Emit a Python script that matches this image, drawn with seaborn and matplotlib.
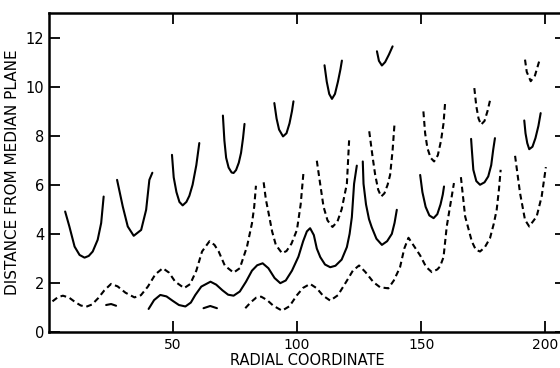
import pandas as pd
import matplotlib
matplotlib.use("Agg")
import matplotlib.pyplot as plt
import seaborn as sns

# curve segments, as (radial coordinate, distance) pairs
# solid U shaped pieces
u1 = [(6.7, 4.91), (8.4, 4.3), (10.5, 3.48), (12.5, 3.14), (14.5, 3.03), (16.2, 3.1),
      (17.8, 3.28), (19.8, 3.76), (21.2, 4.44), (22.2, 5.52)]
u2 = [(27.6, 6.2), (29.9, 5.11), (31.9, 4.3), (34.3, 3.92), (37.3, 4.16), (39.3, 4.98),
      (40.6, 6.2), (41.8, 6.49)]
u3 = [(49.7, 7.22), (50.4, 6.3), (51.5, 5.7), (52.7, 5.3), (54.0, 5.16), (55.5, 5.3),
      (56.7, 5.55), (58.0, 6.0), (59.5, 6.8), (60.7, 7.7)]
u4 = [(70.2, 8.82), (70.8, 7.8), (71.5, 7.1), (72.5, 6.7), (73.7, 6.5), (74.5, 6.48),
      (75.5, 6.6), (76.6, 6.9), (77.5, 7.3), (78.3, 7.9), (78.9, 8.48)]
u5 = [(90.9, 9.33), (91.8, 8.7), (92.8, 8.25), (94.4, 7.97), (95.8, 8.1), (97.0, 8.5),
      (98.0, 9.0), (98.6, 9.4)]
u6 = [(111.1, 10.87), (112.0, 10.2), (113.0, 9.7), (114.1, 9.5), (115.3, 9.7),
      (116.5, 10.2), (117.5, 10.7), (118.1, 11.06)]
u7 = [(132.2, 11.44), (133.0, 11.05), (134.2, 10.86), (135.5, 11.0), (137.0, 11.3),
      (138.5, 11.64)]
u15 = [(149.6, 6.4), (150.5, 5.7), (151.8, 5.1), (153.3, 4.75), (155.0, 4.64),
       (156.5, 4.8), (157.8, 5.2), (158.7, 5.6), (159.2, 5.93)]
u12 = [(170.1, 7.87), (170.4, 7.43), (171.0, 6.61), (172.2, 6.15), (173.7, 6.0),
       (175.5, 6.1), (177.0, 6.34), (178.2, 6.8), (179.0, 7.43), (179.7, 7.9)]
u10 = [(191.5, 8.62), (192.0, 8.1), (192.7, 7.7), (193.5, 7.45), (194.8, 7.55),
       (196.0, 7.9), (197.2, 8.4), (198.1, 8.92)]

# solid oscillating curve and its continuation
s1 = [(40.3, 0.94), (42.5, 1.3), (45.0, 1.51), (47.5, 1.45), (50.0, 1.27), (52.5, 1.1),
      (55.1, 1.04), (57.3, 1.2), (59.1, 1.51), (61.5, 1.85), (65.2, 2.05), (67.5, 1.93),
      (70.0, 1.7), (72.3, 1.52), (74.5, 1.48), (77.0, 1.65), (79.5, 2.05), (81.9, 2.5),
      (84.0, 2.72), (86.2, 2.8), (88.5, 2.6), (91.0, 2.2), (93.3, 1.99), (95.5, 2.1),
      (98.0, 2.5), (100.6, 3.07), (102.5, 3.7), (104.0, 4.1), (105.3, 4.23), (106.8, 3.95),
      (108.0, 3.4), (109.4, 3.05), (111.3, 2.75), (113.4, 2.64), (115.5, 2.7), (118.0, 2.95),
      (120.1, 3.46), (121.2, 4.0), (122.1, 4.68), (123.0, 6.04), (124.1, 6.78)]
s2 = [(126.5, 6.95), (126.8, 6.04), (127.8, 5.2), (129.0, 4.6), (130.1, 4.27),
      (132.0, 3.8), (134.2, 3.55), (136.3, 3.7), (138.2, 4.0), (139.3, 4.45), (140.2, 4.98)]

# short isolated pieces near the bottom
bit_a = [(23.2, 1.1), (25.2, 1.14), (27.2, 1.07)]
bit_b = [(62.4, 0.97), (65.1, 1.06), (67.8, 0.97)]

# dashed curves
d1 = [(1.6, 1.25), (3.8, 1.42), (5.8, 1.48), (8.3, 1.4), (11.0, 1.2), (13.0, 1.08),
      (15.2, 1.03), (17.5, 1.12), (20.0, 1.38), (22.5, 1.7), (25.2, 1.96), (27.8, 1.86),
      (31.0, 1.6), (34.6, 1.41), (37.2, 1.5), (40.0, 1.85), (43.0, 2.35), (46.0, 2.6),
      (48.5, 2.42), (51.0, 2.05), (54.6, 1.79), (57.0, 1.95), (59.5, 2.5), (61.8, 3.28),
      (64.8, 3.7), (66.8, 3.55), (68.5, 3.28), (71.0, 2.7), (74.5, 2.42), (77.0, 2.6),
      (79.9, 3.48), (81.9, 4.43), (82.8, 5.1), (83.5, 5.96)]
d2 = [(86.6, 6.1), (87.5, 5.4), (88.6, 4.84), (90.0, 4.1), (91.5, 3.55), (94.0, 3.21),
      (95.8, 3.3), (97.8, 3.6), (100.0, 4.16), (101.5, 5.2), (102.7, 6.58)]
d3 = [(108.0, 6.98), (109.4, 6.0), (110.7, 5.11), (112.3, 4.55), (114.3, 4.28),
      (116.3, 4.5), (118.0, 5.0), (119.2, 5.6), (120.1, 6.04), (121.0, 7.81)]
d4 = [(129.1, 8.18), (130.5, 7.1), (131.5, 6.4), (132.7, 5.8), (133.9, 5.52),
      (135.2, 5.65), (136.5, 6.0), (137.5, 6.4), (138.5, 7.4), (139.3, 8.52)]
d5 = [(79.2, 0.97), (81.5, 1.22), (83.6, 1.4), (85.6, 1.44), (88.0, 1.3), (90.5, 1.07),
      (94.0, 0.87), (97.0, 1.05), (100.0, 1.5), (102.5, 1.8), (105.3, 1.96), (108.0, 1.78),
      (110.5, 1.48), (113.4, 1.28), (116.5, 1.5), (120.1, 2.09), (122.5, 2.5), (125.0, 2.71),
      (127.5, 2.45), (130.8, 2.03), (133.5, 1.82), (136.8, 1.78), (139.0, 2.1), (141.5, 2.64),
      (143.2, 3.4), (144.9, 3.84), (146.8, 3.55), (149.6, 3.12), (152.0, 2.65), (154.3, 2.44),
      (156.5, 2.55), (157.6, 2.67), (159.0, 3.05), (160.3, 4.3), (161.6, 5.1), (163.2, 6.07)]
u11 = [(150.9, 8.99), (151.6, 8.1), (152.5, 7.5), (153.8, 7.1), (155.2, 6.95),
       (156.7, 7.2), (158.0, 7.8), (159.0, 8.5), (159.6, 9.29)]
u14 = [(166.0, 6.31), (167.7, 4.71), (170.4, 3.69), (172.0, 3.35), (173.7, 3.28),
       (175.6, 3.45), (177.7, 3.82), (179.2, 4.4), (180.4, 4.98), (181.3, 5.8), (182.0, 6.61)]
u9 = [(171.4, 9.94), (172.2, 9.2), (173.1, 8.7), (174.1, 8.45), (175.5, 8.6),
      (176.7, 9.0), (177.7, 9.43)]
u13 = [(187.8, 7.18), (189.8, 5.66), (191.8, 4.57), (193.5, 4.3), (196.5, 4.71),
       (198.5, 5.52), (200.2, 6.72)]
u8 = [(191.8, 11.1), (192.5, 10.6), (194.1, 10.22), (195.8, 10.45), (197.5, 11.03)]

solid_curves = [u1, u2, u3, u4, u5, u6, u7, u15, u12, u10, s1, s2, bit_a, bit_b]
dashed_curves = [d1, d2, d3, d4, d5, u11, u14, u9, u13, u8]

x_ticks = [50, 100, 150, 200]
y_ticks = [0, 2, 4, 6, 8, 10, 12]

rows = []
for kind, curves in [("solid", solid_curves), ("dashed", dashed_curves)]:
    for i, seg in enumerate(curves):
        for x, y in seg:
            rows.append({"seg": f"{kind}{i}", "kind": kind, "x": x, "y": y})
df = pd.DataFrame(rows)

sns.set_style("ticks")
plt.rcParams["font.family"] = ["DejaVu Sans"]

fig = plt.figure(figsize=(5.6, 3.68), dpi=100)
ax = fig.add_axes([48.5 / 560, 36 / 368, (566 - 48.5) / 560, (332 - 13) / 368])

sns.lineplot(data=df, x="x", y="y", units="seg", style="kind", estimator=None,
             dashes={"solid": "", "dashed": (2.8, 1.8)}, color="black",
             linewidth=1.5, legend=False, ax=ax)

ax.set_xlim(0, 208.3)
ax.set_ylim(0, 13)
ax.set_xticks(x_ticks)
ax.set_yticks(y_ticks)
for side in ["left", "right", "top", "bottom"]:
    ax.spines[side].set_visible(True)
    ax.spines[side].set_linewidth(1.8)
    ax.spines[side].set_color("black")
ax.tick_params(direction="in", length=8, width=1.3, top=True, right=True,
               labelsize=10.5, colors="black")
ax.tick_params(axis="x", pad=4, labelsize=10)
ax.tick_params(axis="y", pad=3)
ax.set_xlabel("RADIAL COORDINATE", fontsize=10.5, labelpad=1, color="black")
ax.set_ylabel("DISTANCE FROM MEDIAN PLANE", fontsize=11, labelpad=4, color="black")

fig.savefig("out.png", dpi=100)
